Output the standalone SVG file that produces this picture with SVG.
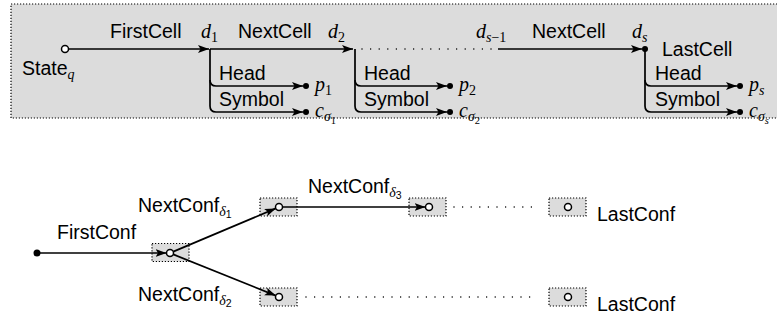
<svg xmlns="http://www.w3.org/2000/svg" width="777" height="320" viewBox="0 0 777 320">
<defs>
<marker id="ah" markerUnits="userSpaceOnUse" markerWidth="12" markerHeight="9" refX="11" refY="4" orient="auto">
<path d="M0,0 L11,4 L0,8 L2.5,4 z" fill="#000"/>
</marker>
<style>
.t{font-family:"Liberation Sans",Arial,sans-serif;font-size:19.5px;fill:#000}
.m{font-family:"Liberation Serif","Times New Roman",serif;font-style:italic;font-size:20px;fill:#000}
.s{font-size:14px}
.ss{font-size:10.5px}
.up{font-style:normal}
.c{fill:none;stroke:#000;stroke-width:1.7}
.a{marker-end:url(#ah)}
.dot{fill:none;stroke:#000;stroke-width:1.5;stroke-linecap:round;stroke-dasharray:0 8.6}
.box{fill:#dcdcdc;stroke:#000;stroke-width:1.2;stroke-dasharray:1.2 1.8}
.oc{fill:#fff;stroke:#000;stroke-width:1.5}
.fc{fill:#000}
</style>
</defs>

<rect id="panel" class="box" x="11" y="4" width="780" height="114"/>

<g id="state">
<circle class="oc" cx="65" cy="49" r="3.5"/>
<text class="t" x="22" y="75">State<tspan class="m s" dy="4">q</tspan></text>
</g>
<g id="label-firstcell"><text class="t" x="110" y="38">FirstCell</text></g>
<g id="d1"><text class="m" x="201" y="38">d<tspan class="s up" dy="4">1</tspan></text></g>
<g id="label-nextcell1"><text class="t" x="238" y="38">NextCell</text></g>
<g id="d2"><text class="m" x="328" y="38">d<tspan class="s up" dy="4">2</tspan></text></g>
<g id="dsm1"><text class="m" x="476" y="38">d<tspan class="s" dy="4">s</tspan><tspan class="s up">−1</tspan></text></g>
<g id="label-nextcell2"><text class="t" x="532" y="38">NextCell</text></g>
<g id="ds">
<circle class="fc" cx="645" cy="49" r="3"/>
<text class="m" x="632" y="38">d<tspan class="s" dy="4">s</tspan></text>
<text class="t" x="662" y="56">LastCell</text>
</g>

<g id="branch1">
<text class="t" x="219" y="80">Head</text>
<text class="t" x="219" y="106">Symbol</text>
<circle class="fc" cx="306" cy="86" r="3"/>
<circle class="fc" cx="306" cy="112" r="3"/>
<text class="m" x="315" y="91">p<tspan class="s up" dy="4">1</tspan></text>
<text class="m" x="315" y="117">c<tspan class="s" dy="4">σ</tspan><tspan class="ss up" dy="3">1</tspan></text>
</g>
<g id="branch2">
<text class="t" x="364" y="80">Head</text>
<text class="t" x="364" y="106">Symbol</text>
<circle class="fc" cx="450" cy="86" r="3"/>
<circle class="fc" cx="450" cy="112" r="3"/>
<text class="m" x="459" y="91">p<tspan class="s up" dy="4">2</tspan></text>
<text class="m" x="459" y="117">c<tspan class="s" dy="4">σ</tspan><tspan class="ss up" dy="3">2</tspan></text>
</g>
<g id="branchs">
<text class="t" x="655" y="80">Head</text>
<text class="t" x="655" y="106">Symbol</text>
<circle class="fc" cx="740" cy="86" r="3"/>
<circle class="fc" cx="740" cy="112" r="3"/>
<text class="m" x="749" y="91">p<tspan class="s" dy="4">s</tspan></text>
<text class="m" x="749" y="117">c<tspan class="s" dy="4">σ</tspan><tspan class="ss" dy="3">s</tspan></text>
</g>

<g id="start">
<circle class="fc" cx="37" cy="253" r="3.5"/>
<text class="t" x="57" y="239">FirstConf</text>
</g>
<g id="conf0">
<rect class="box" x="152" y="243.5" width="37" height="18"/>
<circle class="oc" cx="170" cy="253" r="3.5"/>
</g>
<g id="conf1">
<rect class="box" x="260" y="198" width="37" height="18"/>
<circle class="oc" cx="279" cy="207" r="3.5"/>
<text class="t" x="138" y="212">NextConf<tspan class="m s" dy="4">δ</tspan><tspan class="ss" dy="2">1</tspan></text>
</g>
<g id="conf2">
<rect class="box" x="260" y="288" width="37" height="18"/>
<circle class="oc" cx="279" cy="297" r="3.5"/>
<text class="t" x="138" y="301">NextConf<tspan class="m s" dy="4">δ</tspan><tspan class="ss" dy="2">2</tspan></text>
</g>
<g id="conf3">
<rect class="box" x="409" y="198" width="37" height="18"/>
<circle class="oc" cx="429" cy="207" r="3.5"/>
<text class="t" x="308" y="193">NextConf<tspan class="m s" dy="4">δ</tspan><tspan class="ss" dy="2">3</tspan></text>
</g>
<g id="last1">
<rect class="box" x="549" y="198" width="37" height="18"/>
<circle class="oc" cx="568" cy="207" r="3.5"/>
<text class="t" x="597" y="221">LastConf</text>
</g>
<g id="last2">
<rect class="box" x="549" y="288" width="37" height="18"/>
<circle class="oc" cx="568" cy="297" r="3.5"/>
<text class="t" x="597" y="311">LastConf</text>
</g>

<g id="connectors">
<path class="c a" d="M68.5,49 H209"/>
<path class="c a" d="M210,49 H353"/>
<path class="c a" d="M210,49 V80 Q210,86 216,86 H303"/>
<path class="c a" d="M210,80 V106 Q210,112 216,112 H303"/>
<path class="c a" d="M355,49 V80 Q355,86 361,86 H447"/>
<path class="c a" d="M355,80 V106 Q355,112 361,112 H447"/>
<path class="dot" d="M362,49 H496"/>
<path class="c a" d="M498,49 H642"/>
<path class="c a" d="M645,49 V80 Q645,86 651,86 H737"/>
<path class="c a" d="M645,80 V106 Q645,112 651,112 H737"/>
<path class="c a" d="M37,253 H166.5"/>
<path class="c a" d="M173.3,251.6 L275.8,208.4"/>
<path class="c a" d="M173.3,254.4 L275.8,295.6"/>
<path class="c a" d="M282.5,207 H425.5"/>
<path class="dot" d="M454,207 H534"/>
<path class="dot" d="M306,297 H534"/>
</g>
</svg>
